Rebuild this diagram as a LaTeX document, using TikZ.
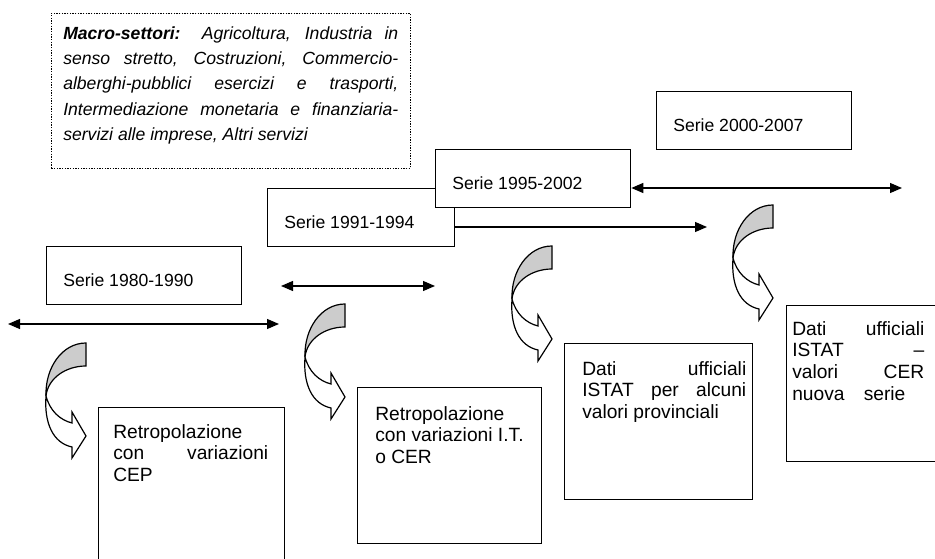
\documentclass[tikz,border=0pt]{standalone}
\usepackage{fontspec}
\setmainfont{Liberation Sans}
\usetikzlibrary{arrows.meta,calc}

\tikzset{
  curvedarrow/.pic={
    \filldraw[fill=gray!40, line width=0.9pt] (0,0) .. controls (-24,0) and (-41,25) .. (-40,53)
      .. controls (-38,35) and (-20,23) .. (0,23) -- cycle;
    \filldraw[fill=white, line width=0.9pt] (-40,53) .. controls (-36,68) and (-26,77) .. (-14,80)
      -- (-14,69) -- (0,93) -- (-14,115) -- (-14,104)
      .. controls (-33,100) and (-42,80) .. (-40,53) -- cycle;
  }
}

\begin{document}
\begin{tikzpicture}
[x=0.75pt, y=-0.75pt,
  boxdecorate/.style={shape=rectangle,draw,fill=white,line width=1pt,anchor=north west,inner sep=0pt},
  seriedecorate/.style={anchor=base west,inner sep=0pt,font=\fontsize{13.2}{15.8}\selectfont},
  notedecorate/.style={anchor=north west,inner sep=0pt,font=\fontsize{14.4}{16.3}\selectfont},
  arrowdecorate/.style={line width=0.9pt,>={Triangle[length=9pt,width=7.5pt]}}]
\clip (0,0) rectangle (935,559);
%% boxes
\node (macro) at (51,13) [boxdecorate,densely dotted,line width=0.7pt,
  minimum width=359*0.75pt,minimum height=155*0.75pt] {};
\foreach \boxname/\x/\y/\w/\h in {b80/46/246/195/58, b91/267/188/187/58,
  b95/435/149/195/58, b00/656/91/195/58, cep/98/407/186/200,
  it/357/387/184/156, istat/564/343/188/156, cer/786/305/200/156} {
  \node (\boxname) at (\x,\y) [boxdecorate,minimum width=\w*0.75pt,minimum height=\h*0.75pt] {};
}
%% texts
\node (macrotext) at ($(macro.north west)+(12,13)$) [anchor=north west,inner sep=0pt,
  text width=335*0.75pt,align=justify,font=\fontsize{13.2}{19.1}\selectfont\itshape]
  {\tolerance=10000 \hyphenpenalty=10000
  \textbf{Macro-settori:} Agricoltura, Industria in\linebreak senso stretto, Costruzioni,
  Commercio-\linebreak alberghi-pubblici esercizi e trasporti,\linebreak Intermediazione
  monetaria e finanziaria-\linebreak servizi alle imprese, Altri servizi};
\foreach \boxname/\years in {b80/1980-1990, b91/1991-1994, b95/1995-2002, b00/2000-2007} {
  \node (\boxname-t) at ($(\boxname.north west)+(17,41)$) [seriedecorate] {Serie \years};
}
\node (cep-t) at ($(cep.north west)+(15,17)$) [notedecorate,text width=155*0.75pt,align=justify]
  {\tolerance=10000 Retropolazione\linebreak con variazioni\linebreak CEP};
\node (it-t) at ($(it.north west)+(18,19)$) [notedecorate,align=left]
  {Retropolazione\\con variazioni I.T.\\o CER};
\node (istat-t) at ($(istat.north west)+(18,18)$) [notedecorate,text width=164*0.75pt,align=justify]
  {\tolerance=10000 Dati ufficiali\linebreak ISTAT per alcuni\linebreak valori provinciali};
\node (cer-t) at ($(cer.north west)+(6,16)$) [notedecorate,text width=132*0.75pt,align=justify]
  {\tolerance=10000 Dati ufficiali\linebreak ISTAT –\linebreak valori CER\linebreak nuova\quad serie};
%% curved arrows
\foreach \x/\y in {86/343, 345/304, 552/246, 773/205} {
  \pic at (\x,\y) {curvedarrow};
}
%% edges or lines
\coordinate (a80l) at (8,324);
\coordinate (a80r) at (279,324);
\coordinate (a91l) at (281,286);
\coordinate (a91r) at (435,286);
\coordinate (a91end) at (707,227);
\coordinate (a95end) at (902,188);
\path
\foreach \startnode/\endnode/\tips in {a80l/a80r/<->, a91l/a91r/<->,
  b91.east |- a91end/a91end/->, b95.east |- a95end/a95end/<->} {
  (\startnode) edge[arrowdecorate,\tips] (\endnode)
};
\end{tikzpicture}
\end{document}
